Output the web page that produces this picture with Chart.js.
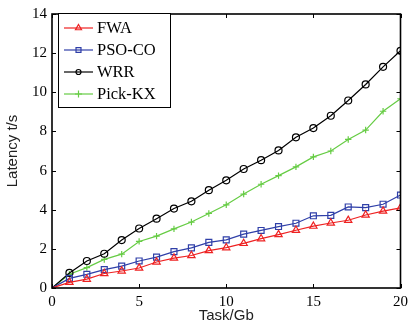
<!DOCTYPE html>
<html>
<head>
<meta charset="utf-8">
<script src="https://cdn.jsdelivr.net/npm/chart.js@4.4.0/dist/chart.umd.min.js"></script>
<style>
html,body{margin:0;padding:0;background:#fff;}
#wrap{width:413px;height:329px;position:relative;}
</style>
</head>
<body>
<div id="wrap"><canvas id="c" width="413" height="329"></canvas></div>
<script>
const tasks = [0,1,2,3,4,5,6,7,8,9,10,11,12,13,14,15,16,17,18,19,20];
const fwa    = [0,0.29,0.45,0.74,0.87,1.02,1.33,1.53,1.66,1.91,2.06,2.28,2.52,2.73,2.95,3.16,3.32,3.46,3.73,3.93,4.09];
const psoco  = [0,0.49,0.70,0.94,1.12,1.38,1.58,1.86,2.05,2.33,2.46,2.75,2.94,3.14,3.31,3.69,3.71,4.14,4.11,4.28,4.75];
const wrr    = [0,0.77,1.38,1.75,2.45,3.04,3.54,4.06,4.43,5.0,5.5,6.08,6.53,7.03,7.70,8.17,8.80,9.58,10.4,11.3,12.12];
const pickkx = [0,0.70,1.04,1.46,1.73,2.38,2.65,3.02,3.37,3.81,4.25,4.8,5.3,5.74,6.19,6.7,7.0,7.59,8.07,9.03,9.67];
const xTicks = [0,5,10,15,20];
const yTicks = [0,2,4,6,8,10,12,14];
const seriesNames = ['FWA','PSO-CO','WRR','Pick-KX'];

const RED='#ee2222', BLUE='#2f3fa8', BLACK='#000000', GREEN='#66cc44';

function ds(label,data,color,style,r){
  return {label, data: tasks.map((t,i)=>({x:t,y:data[i]})), borderColor:color, backgroundColor:'rgba(0,0,0,0)',
    borderWidth:1.2, pointStyle:style, pointRadius:(ctx)=>ctx.dataIndex===0?0:r, pointBorderColor:color,
    pointBorderWidth:1.2, pointBackgroundColor:'rgba(0,0,0,0)', tension:0, fill:false};
}

const boxPlugin = {
  id:'boxTicks',
  afterDraw(chart){
    const {ctx, chartArea:a, scales:{x,y}} = chart;
    ctx.save();
    ctx.strokeStyle='#000';
    ctx.lineWidth=1.6;
    ctx.strokeRect(a.left,a.top,a.right-a.left,a.bottom-a.top);
    ctx.lineWidth=1;
    ctx.beginPath();
    const L=4;
    xTicks.forEach(v=>{const px=Math.round(x.getPixelForValue(v))+0.5;
      ctx.moveTo(px,a.bottom);ctx.lineTo(px,a.bottom-L);
      ctx.moveTo(px,a.top);ctx.lineTo(px,a.top+L);});
    yTicks.forEach(v=>{const py=Math.round(y.getPixelForValue(v))+0.5;
      ctx.moveTo(a.left,py);ctx.lineTo(a.left+L,py);
      ctx.moveTo(a.right,py);ctx.lineTo(a.right-L,py);});
    ctx.stroke();
    // legend
    const lx=58, ly=13, lw=112, lh=94;
    ctx.fillStyle='#fff';
    ctx.fillRect(lx,ly,lw,lh);
    ctx.lineWidth=1;
    ctx.strokeStyle='#000';
    ctx.strokeRect(lx+0.5,ly+0.5,lw,lh);
    const rows=[28,50,72,94];
    chart.data.datasets.forEach((d,i)=>{
      const yy=rows[i];
      ctx.strokeStyle=d.borderColor; ctx.lineWidth=1.2;
      ctx.beginPath(); ctx.moveTo(64,yy); ctx.lineTo(93,yy); ctx.stroke();
      ctx.fillStyle='rgba(0,0,0,0)';
      ctx.strokeStyle=d.borderColor;
      Chart.helpers.drawPoint(ctx,{pointStyle:d.pointStyle,radius:i===2?2.5:3.5,rotation:0,borderWidth:1.2},78.5,yy);
      ctx.fillStyle='#000';
      ctx.font='16.5px "Liberation Serif", "Times New Roman", serif';
      ctx.textBaseline='middle'; ctx.textAlign='left';
      ctx.fillText(seriesNames[i],97,yy+1);
    });
    ctx.restore();
  }
};

new Chart(document.getElementById('c'),{
  type:'line',
  data:{datasets:[
    ds(seriesNames[0],fwa,RED,'triangle',4.2),
    ds(seriesNames[1],psoco,BLUE,'rect',4.2),
    ds(seriesNames[2],wrr,BLACK,'circle',3.5),
    ds(seriesNames[3],pickkx,GREEN,'cross',3.2)
  ]},
  options:{
    responsive:false, animation:false, devicePixelRatio:1,
    layout:{padding:{left:0,right:9,top:10,bottom:0}},
    plugins:{legend:{display:false},tooltip:{enabled:false}},
    scales:{
      x:{type:'linear',min:0,max:20,
        afterBuildTicks:(s)=>{s.ticks=xTicks.map(v=>({value:v}));},
        afterFit:(s)=>{s.height=41;},
        grid:{display:false,drawTicks:false},
        border:{display:false},
        ticks:{padding:5,color:'#000',maxRotation:0,font:{family:'"Liberation Serif", serif',size:15}},
        title:{display:true,text:'Task/Gb',color:'#222',padding:{top:0,bottom:4},font:{family:'"Liberation Sans", Arial, sans-serif',size:15}}
      },
      y:{type:'linear',min:0,max:14,
        afterBuildTicks:(s)=>{s.ticks=yTicks.map(v=>({value:v}));},
        afterFit:(s)=>{s.width=52;},
        grid:{display:false,drawTicks:false},
        border:{display:false},
        ticks:{padding:5,color:'#000',font:{family:'"Liberation Serif", serif',size:15}},
        title:{display:true,text:'Latency t/s',color:'#222',padding:{top:4,bottom:0},font:{family:'"Liberation Sans", Arial, sans-serif',size:15}}
      }
    }
  },
  plugins:[boxPlugin]
});
</script>
</body>
</html>
